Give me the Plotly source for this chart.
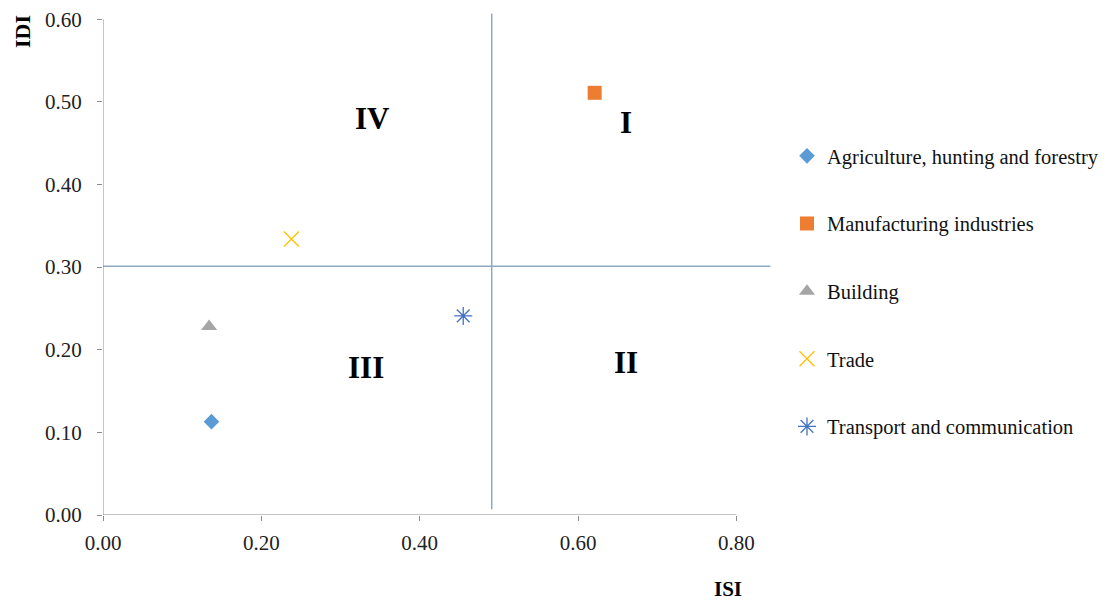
import plotly.graph_objects as go

# Data
sectors = ["Agriculture, hunting and forestry", "Manufacturing industries",
           "Building", "Trade", "Transport and communication"]
isi = [0.137, 0.621, 0.134, 0.238, 0.455]
idi = [0.113, 0.511, 0.228, 0.334, 0.241]
colors = ["#5B9BD5", "#ED7D31", "#A5A5A5", "#FFC000", "#4472C4"]
symbols = ["diamond", "square", "triangle-up", "x-thin-open", "asterisk-open"]
sizes = [12, 14, 14, 15, 15]

isi_threshold = 0.491
idi_threshold = 0.301
quadrants = ["I", "II", "III", "IV"]
quad_x = [0.661, 0.661, 0.332, 0.340]
quad_y = [0.475, 0.184, 0.178, 0.480]

xticks = [0.0, 0.2, 0.4, 0.6, 0.8]
yticks = [0.0, 0.1, 0.2, 0.3, 0.4, 0.5, 0.6]

FONT = "Liberation Serif, Times New Roman, serif"
AXIS_GREY = "#8C8C8C"
LINE_BLUE = "#8EA9C1"

# the page body adds an 8px offset; size the figure to fill the rest of the window
OFF = 8
W, H = 1115 - OFF, 603 - OFF
ml, mr, mt, mb = 95, 343, 3, 88
pw, ph = W - ml - mr, H - mt - mb


def px(xp):
    """window pixel x -> paper fraction"""
    return (xp - OFF - ml) / pw


def py(yp):
    """window pixel y -> paper fraction"""
    return (H - mb - (yp - OFF)) / ph


fig = go.Figure()
for i, name in enumerate(sectors):
    open_sym = symbols[i].endswith("open")
    fig.add_trace(go.Scatter(
        x=[isi[i]], y=[idi[i]], mode="markers", name=name,
        legendgroup=name,
        marker=dict(symbol=symbols[i], size=sizes[i], color=colors[i],
                    line=dict(width=1.3 if open_sym else 0, color=colors[i])),
    ))

# quadrant dividing lines
fig.add_shape(type="line", xref="x", yref="y", x0=0, x1=0.843,
              y0=idi_threshold, y1=idi_threshold,
              line=dict(color=LINE_BLUE, width=1.5), layer="below")
fig.add_shape(type="line", xref="x", yref="y", x0=isi_threshold, x1=isi_threshold,
              y0=0.007, y1=0.607,
              line=dict(color=LINE_BLUE, width=1.5), layer="below")
# axis lines
fig.add_shape(type="line", xref="x", yref="y", x0=0, x1=0.8, y0=0, y1=0,
              line=dict(color=AXIS_GREY, width=1))
fig.add_shape(type="line", xref="x", yref="y", x0=0, x1=0, y0=0, y1=0.6,
              line=dict(color=AXIS_GREY, width=1))

for q, qx, qy in zip(quadrants, quad_x, quad_y):
    fig.add_annotation(x=qx, y=qy, xref="x", yref="y", text="<b>%s</b>" % q,
                       showarrow=False, font=dict(family=FONT, size=31, color="black"))

fig.add_annotation(x=px(728), y=py(589), xref="paper", yref="paper", text="<b>ISI</b>",
                   xanchor="center", yanchor="middle",
                   showarrow=False, font=dict(family=FONT, size=21, color="black"))
fig.add_annotation(x=px(23), y=py(32), xref="paper", yref="paper", text="<b>IDI</b>",
                   xanchor="center", yanchor="middle",
                   textangle=-90, showarrow=False,
                   font=dict(family=FONT, size=22, color="black"))

fig.update_layout(
    width=W, height=H,
    margin=dict(l=ml, r=mr, t=mt, b=mb, autoexpand=False),
    paper_bgcolor="white", plot_bgcolor="white",
    font=dict(family=FONT, size=21, color="#222222"),
    showlegend=True,
    legend=dict(x=px(787), y=py(136), xanchor="left", yanchor="top",
                font=dict(family=FONT, size=20.5, color="#111111"),
                tracegroupgap=38, bgcolor="rgba(0,0,0,0)"),
    xaxis=dict(range=[0, 0.845], tickvals=xticks,
               ticktext=["%.2f" % v for v in xticks],
               showline=False, showgrid=False, zeroline=False, automargin=False,
               ticks="outside", ticklen=5, tickcolor=AXIS_GREY,
               ticklabelstandoff=4, ticklabeloverflow="allow", fixedrange=True),
    yaxis=dict(range=[0, 0.61], tickvals=yticks,
               ticktext=["%.2f" % v for v in yticks],
               showline=False, showgrid=False, zeroline=False, automargin=False,
               ticks="outside", ticklen=5, tickcolor=AXIS_GREY,
               ticklabelstandoff=11, ticklabeloverflow="allow", fixedrange=True),
)

fig.write_html("out.html")
